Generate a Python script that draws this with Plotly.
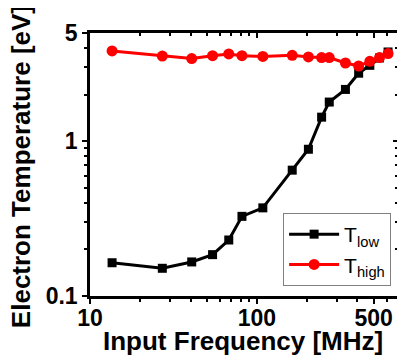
import plotly.graph_objects as go
import math

# Data
freq_mhz = [13.56, 27.12, 40.68, 54.24, 67.8, 81.36, 108.48, 162.72, 203.4,
            244.08, 271.2, 339.0, 406.8, 474.6, 542.4, 610.2]
t_low = [0.164, 0.151, 0.166, 0.185, 0.230, 0.327, 0.371, 0.650, 0.887,
         1.43, 1.79, 2.16, 2.75, 3.09, 3.45, 3.77]
t_high = [3.83, 3.55, 3.42, 3.57, 3.66, 3.57, 3.53, 3.59, 3.50,
          3.47, 3.47, 3.20, 3.06, 3.28, 3.47, 3.68]

x_ticks = [10, 100, 500]
x_ticklabels = ["<b>10</b>", "<b>100</b>", "<b>500</b>"]
x_minor = [20, 30, 40, 50, 60, 70, 80, 90, 200, 300, 400, 600]
y_ticks = [0.1, 1, 5]
y_ticklabels = ["<b>0.1</b>", "<b>1</b>", "<b>5</b>"]
y_minor = [0.2, 0.3, 0.4, 0.5, 0.6, 0.7, 0.8, 0.9, 2, 3, 4]

x_range = [10, 700]
y_range = [0.1, 5]

x_title = "Input Frequency [MHz]"
y_title = "Electron Temperature [eV]"

FONT = "Liberation Sans, Arial, sans-serif"

fig = go.Figure()
fig.add_trace(go.Scatter(
    x=freq_mhz, y=t_low, name="T<sub>low</sub>", mode="lines+markers",
    line=dict(color="black", width=3),
    marker=dict(symbol="square", size=9, color="black"),
))
fig.add_trace(go.Scatter(
    x=freq_mhz, y=t_high, name="T<sub>high</sub>", mode="lines+markers",
    line=dict(color="#ff0000", width=3),
    marker=dict(symbol="circle", size=11, color="#ff0000"),
))

xr = [math.log10(v) for v in x_range]
yr = [math.log10(v) for v in y_range]

common = dict(showgrid=False, zeroline=False, linecolor="black", linewidth=2.5,
              tickcolor="black", tickwidth=2, ticklen=5, automargin=False)

# page body has an 8px margin, so the figure is shrunk/offset to compensate
fig.update_layout(
    width=397, height=348,
    margin=dict(l=82, r=7, t=25, b=60),
    paper_bgcolor="white", plot_bgcolor="white",
    font=dict(family=FONT, color="black"),
    xaxis=dict(type="log", range=xr, tickvals=x_ticks, ticktext=x_ticklabels,
               ticks="outside", mirror=True, ticklabelstandoff=-5,
               minor=dict(tickvals=x_minor, ticks="outside", ticklen=3,
                          tickwidth=2, tickcolor="black", showgrid=False),
               tickfont=dict(size=23, family=FONT, color="black"),
               **common),
    yaxis=dict(type="log", range=yr, tickvals=y_ticks, ticktext=y_ticklabels,
               ticks="outside", mirror=True,
               minor=dict(tickvals=y_minor, ticks="outside", ticklen=3,
                          tickwidth=2, tickcolor="black", showgrid=False),
               tickfont=dict(size=23, family=FONT, color="black"),
               **common),
    xaxis2=dict(type="log", range=xr, overlaying="x", side="top", anchor="y",
                tickvals=x_ticks, showticklabels=False, ticks="inside",
                minor=dict(tickvals=x_minor, ticks="inside", ticklen=3,
                           tickwidth=2, tickcolor="black", showgrid=False),
                **common),
    yaxis2=dict(type="log", range=yr, overlaying="y", side="right", anchor="x",
                tickvals=y_ticks, showticklabels=False, ticks="inside",
                minor=dict(tickvals=y_minor, ticks="inside", ticklen=3,
                           tickwidth=2, tickcolor="black", showgrid=False),
                **common),
    legend=dict(x=0.627, y=0.038, xanchor="left", yanchor="bottom",
                bgcolor="white", bordercolor="#808080", borderwidth=1,
                font=dict(size=21, family=FONT, color="black"), itemwidth=50,
                tracegroupgap=0),
    showlegend=True,
    annotations=[
        dict(text="<b>" + x_title + "</b>", xref="paper", yref="paper",
             x=0.498, y=-0.171, xanchor="center", yanchor="middle",
             showarrow=False, font=dict(size=26, family=FONT, color="black")),
        dict(text="<b>" + y_title + "</b>", xref="paper", yref="paper",
             x=-0.224, y=0.49, xanchor="center", yanchor="middle",
             textangle=-90, showarrow=False,
             font=dict(size=26, family=FONT, color="black")),
    ],
)

# invisible helper trace so the top/right axes are rendered
fig.add_trace(go.Scatter(x=[freq_mhz[0]], y=[t_low[0]], xaxis="x2", yaxis="y2",
                         mode="markers", marker=dict(opacity=0), showlegend=False,
                         hoverinfo="skip"))

fig.write_html("out.html")
